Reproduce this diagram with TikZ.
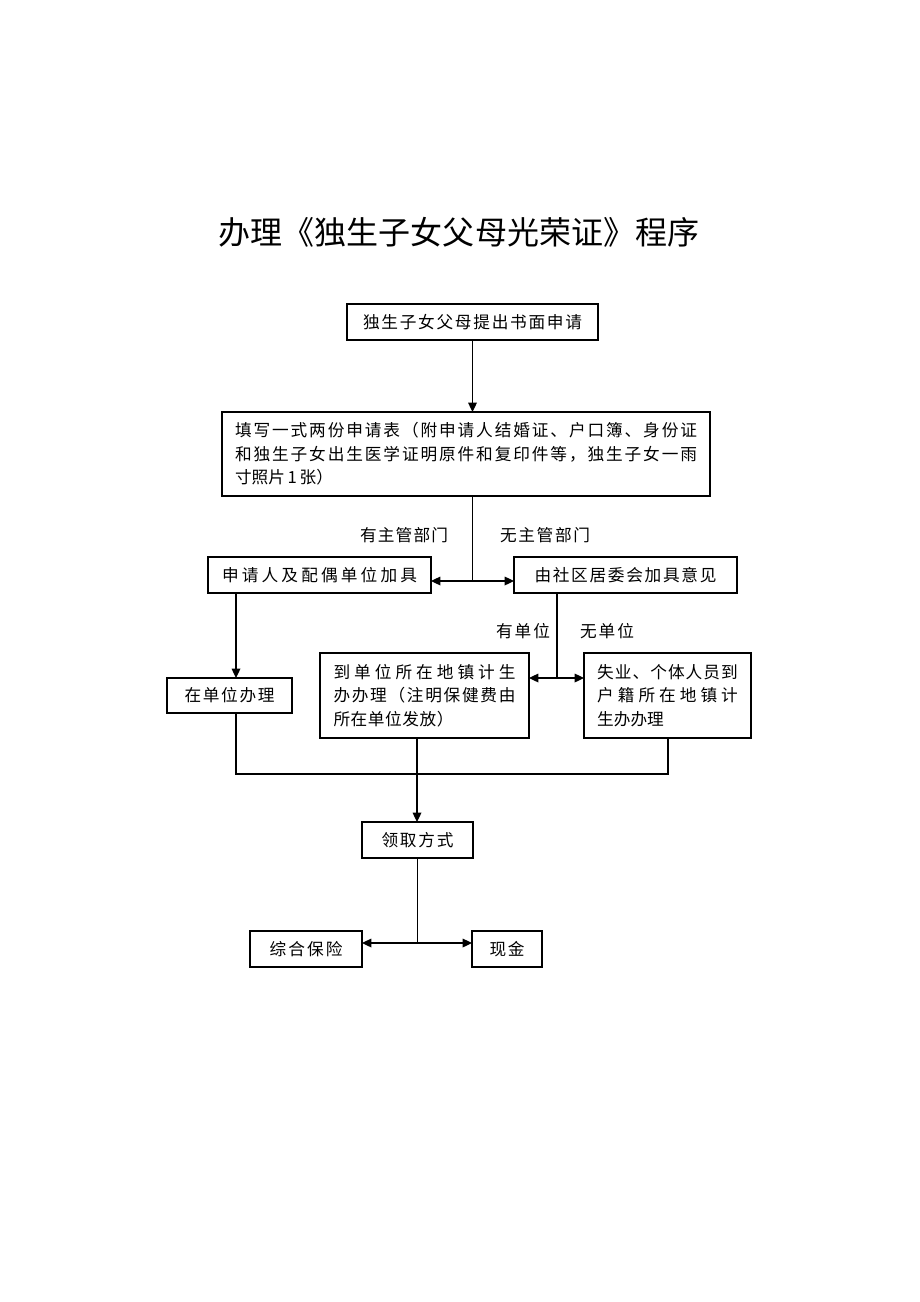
\documentclass[tikz,border=0pt]{standalone}
\usepackage{fontspec}
\setmainfont{Noto Sans CJK SC}
\usetikzlibrary{arrows.meta}
\ExplSyntaxOn
\NewDocumentCommand\spr{mm}{\makebox[#1][s]{\tl_map_inline:nn{#2}{##1\hfil}\unskip}}
\ExplSyntaxOff
\newcommand\myfont{\fontsize{12.5pt}{17.6pt}\selectfont}
\newcommand\mytitlefont{\fontsize{24pt}{28pt}\selectfont}
\tikzset{
  box/.style={draw, line width=0.8pt, inner sep=0pt, outer sep=0pt, font=\myfont, align=left},
  lbl/.style={inner sep=0pt, outer sep=0pt, font=\myfont},
  conn/.style={line width=0.9pt},
  arr/.style={line width=0.9pt, -{Triangle[length=7pt,width=6.5pt]}}
}
\begin{document}
\begin{tikzpicture}[x=0.75pt,y=-0.75pt]
\fill[white] (0,0) rectangle (920,1302);
\node[lbl, font=\mytitlefont] (title) at (459,232) {\spr{361.5pt}{办理《独生子女父母光荣证》程序}};
% boxes
\node[box, minimum width=188.25pt, minimum height=27pt] (b1) at (472.5,322) {\spr{164.25pt}{独生子女父母提出书面申请}};
\node[box, minimum width=366pt, minimum height=63pt] (b2) at (466,454) {\spr{346.5pt}{填写一式两份申请表（附申请人结婚证、户口簿、身份证}\\\spr{346.5pt}{和独生子女出生医学证明原件和复印件等，独生子女一雨}\\\spr{73.5pt}{寸照片\ 1\ 张）}};
\node[box, minimum width=167.25pt, minimum height=27pt] (bL) at (319.5,575) {\spr{146.25pt}{申请人及配偶单位加具}};
\node[box, minimum width=167.25pt, minimum height=27pt] (bR) at (625.5,575) {\spr{136.5pt}{由社区居委会加具意见}};
\node[box, minimum width=93.75pt, minimum height=26.25pt] (bZ) at (229.5,695.5) {\spr{67.5pt}{在单位办理}};
\node[box, minimum width=156.75pt, minimum height=63.75pt] (bM) at (424.5,695.5) {\spr{136.5pt}{到单位所在地镇计生}\\\spr{136.5pt}{办办理（注明保健费由}\\\spr{90pt}{所在单位发放）}};
\node[box, minimum width=125.25pt, minimum height=63.75pt] (bT) at (667.5,695.5) {\spr{105.5pt}{失业、个体人员到}\\\spr{105.5pt}{户籍所在地镇计}\\\spr{49pt}{生办办理}};
\node[box, minimum width=83.25pt, minimum height=27pt] (bW) at (417.5,840) {\spr{54pt}{领取方式}};
\node[box, minimum width=84pt, minimum height=27pt] (bI) at (306,949) {\spr{54.75pt}{综合保险}};
\node[box, minimum width=52.5pt, minimum height=27pt] (bC) at (507,949) {\spr{26.25pt}{现金}};
% labels
\node[lbl] (l1) at (404,535) {\spr{66pt}{有主管部门}};
\node[lbl] (l2) at (545,535) {\spr{67.5pt}{无主管部门}};
\node[lbl] (l3) at (523,631) {\spr{40.5pt}{有单位}};
\node[lbl] (l4) at (607,631) {\spr{40.5pt}{无单位}};
% junction coordinates
\coordinate (j1) at (472.5,581);
\coordinate (c1) at (236,0);
\coordinate (j2) at (557,678);
\coordinate (c2) at (668,0);
\coordinate (j3) at (417,774);
\coordinate (j4) at (417.5,943);
% connectors
\draw[arr] (j1 |- b1.south) -- (j1 |- b2.north);
\draw[conn] (j1 |- b2.south) -- (j1);
\draw[arr] (j1) -- (j1 -| bL.east);
\draw[arr] (j1) -- (j1 -| bR.west);
\draw[arr] (c1 |- bL.south) -- (c1 |- bZ.north);
\draw[conn] (j2 |- bR.south) -- (j2);
\draw[arr] (j2) -- (j2 -| bM.east);
\draw[arr] (j2) -- (j2 -| bT.west);
\draw[conn] (c1 |- bZ.south) -- (c1 |- j3) -- (c2 |- j3) -- (c2 |- bT.south);
\draw[arr] (j3 |- bM.south) -- (j3 |- bW.north);
\draw[conn] (j4 |- bW.south) -- (j4);
\draw[arr] (j4) -- (j4 -| bI.east);
\draw[arr] (j4) -- (j4 -| bC.west);
\end{tikzpicture}
\end{document}
